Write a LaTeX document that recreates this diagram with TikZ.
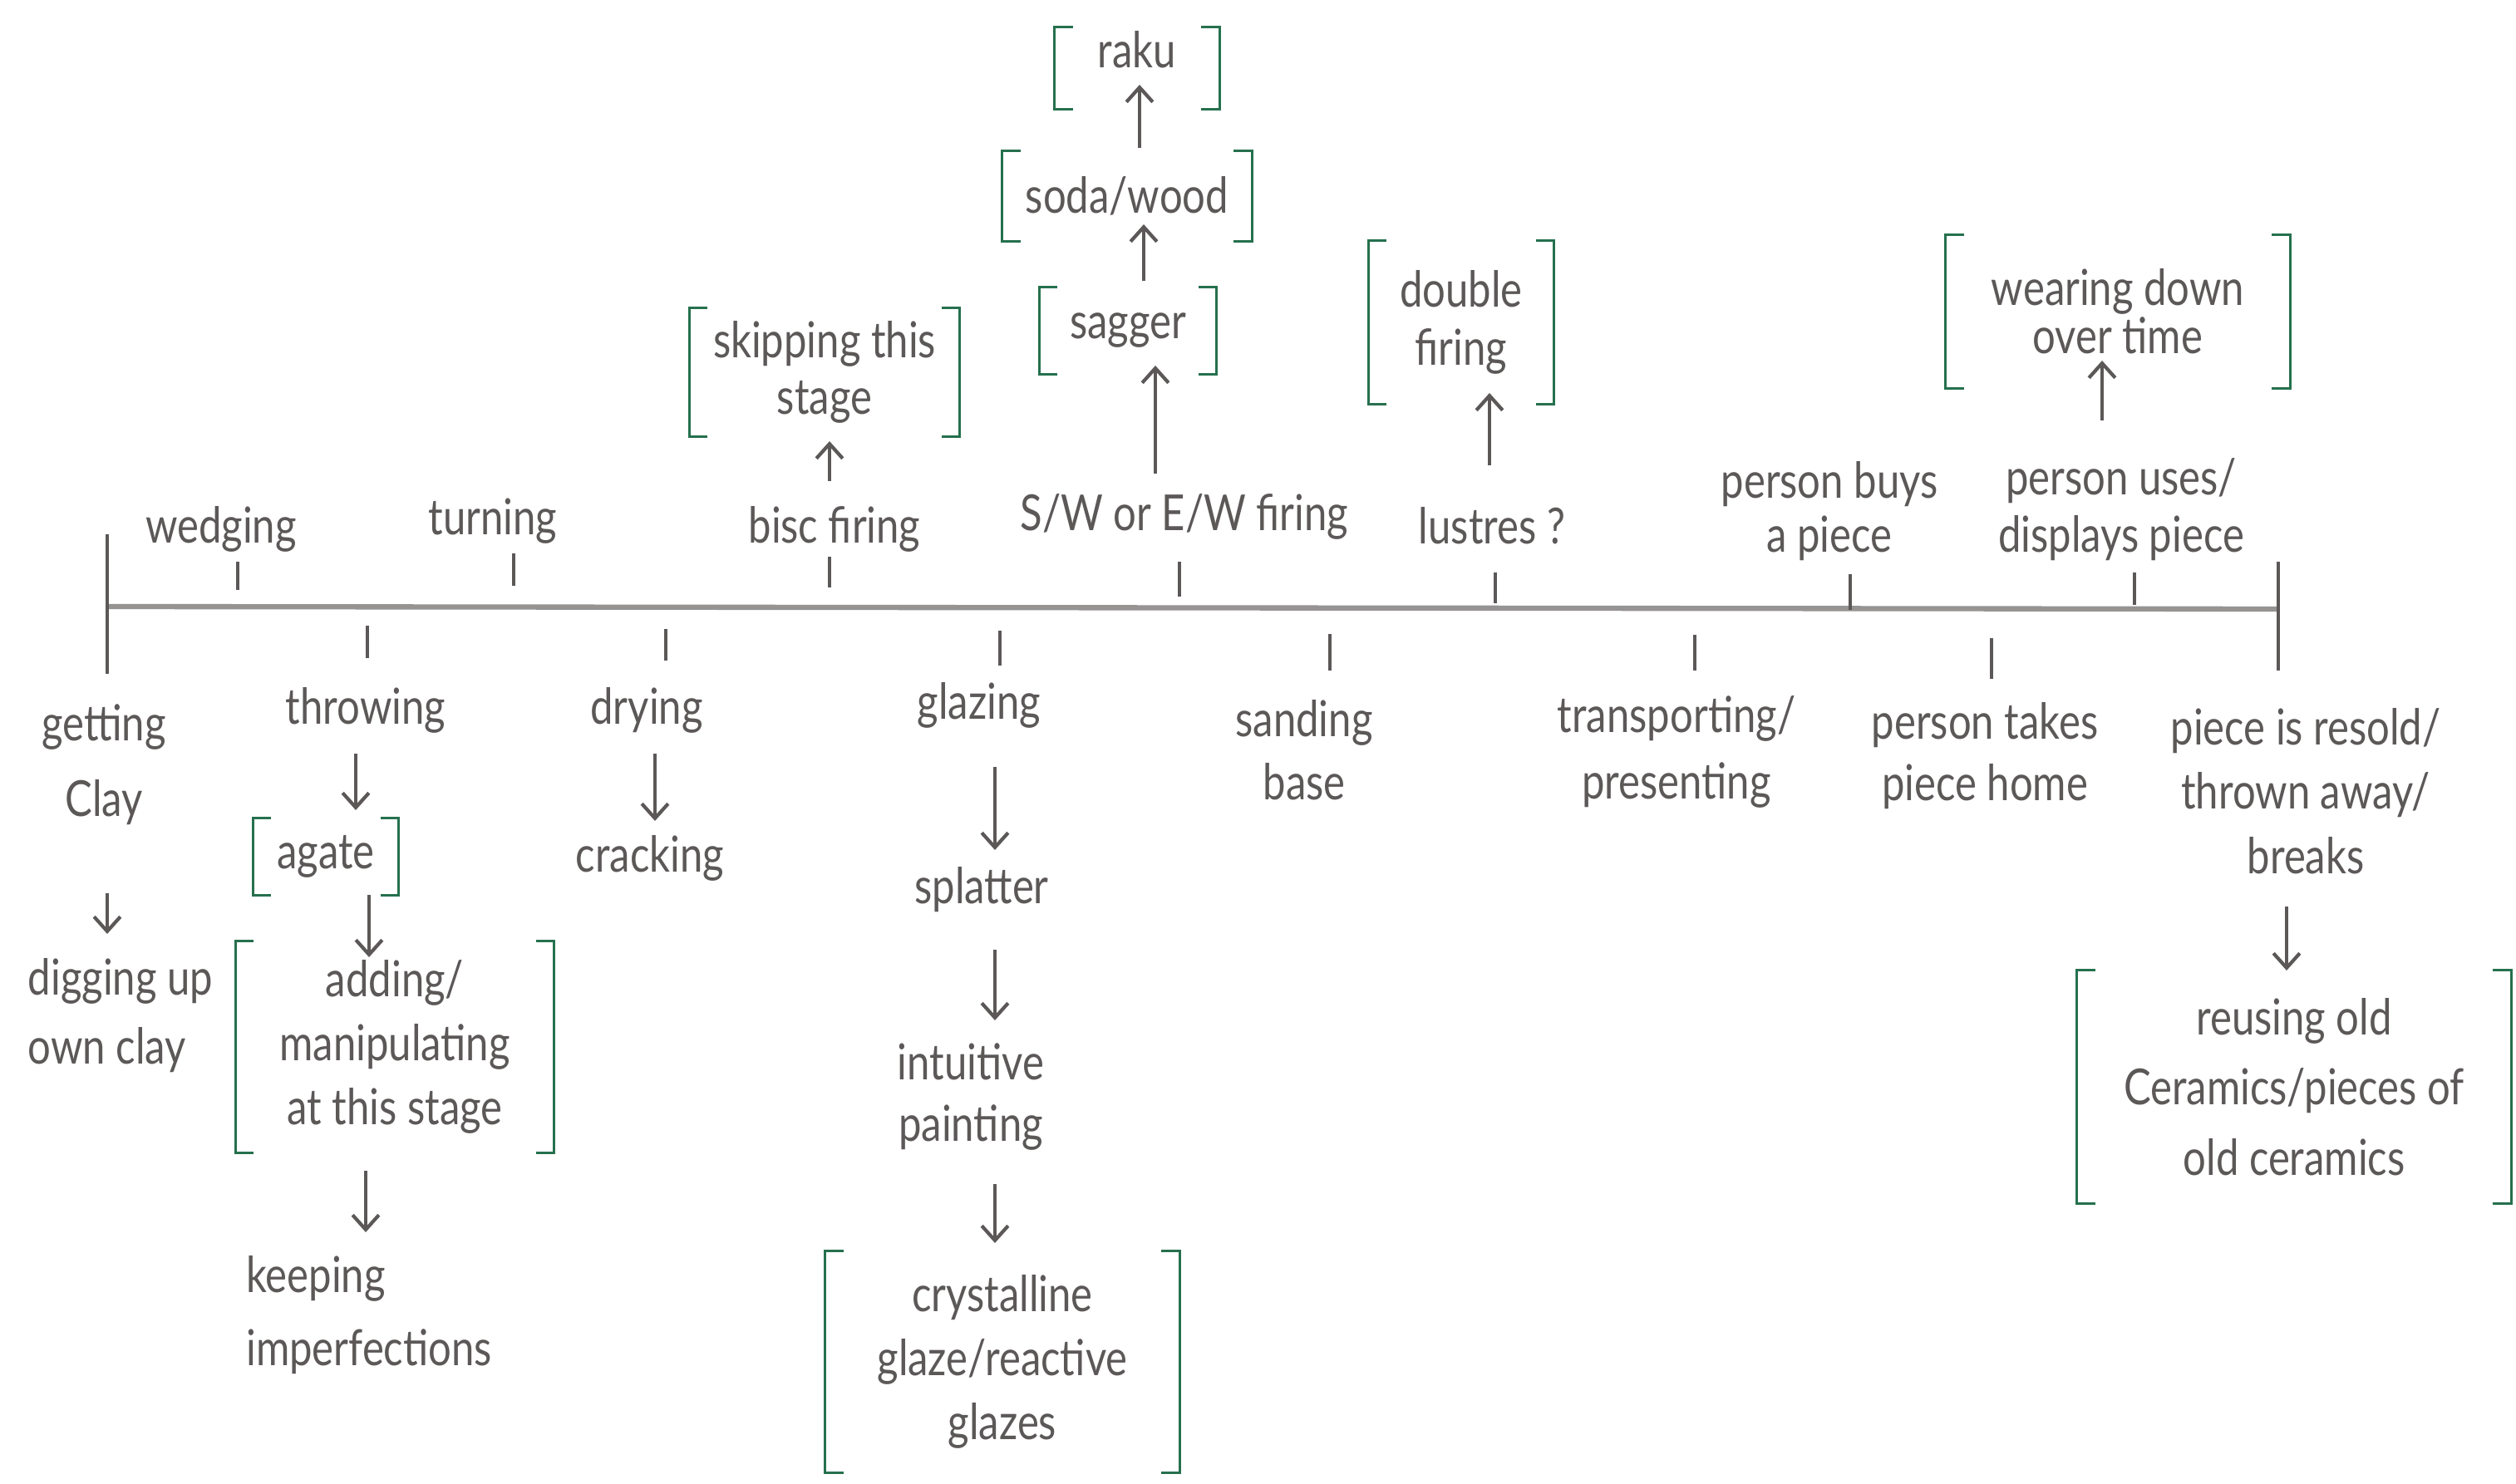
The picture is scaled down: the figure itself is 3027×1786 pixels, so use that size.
\documentclass[tikz,border=0pt]{standalone}
\usepackage{fontspec}
\setmainfont{Lato}[FakeStretch=0.82]
\usetikzlibrary{arrows.meta,calc}
\definecolor{ink}{RGB}{92,88,88}
\definecolor{tlgrey}{RGB}{150,147,147}
\definecolor{brgreen}{RGB}{38,112,78}
% bracket pair around a node
\newcommand\grbr[1]{%
  \draw[brk] ($(#1.north west)+(22,0)$) -- (#1.north west) -- (#1.south west) -- ++(22,0);
  \draw[brk] ($(#1.north east)+(-22,0)$) -- (#1.north east) -- (#1.south east) -- ++(-22,0);}
% arrow from node a to node b: x offset from a's centre, y offsets from a's and b's centres
\newcommand\conn[5]{\draw[arr] ($(#1.center)+(#3,#4)$) -- ($(#1.center |- #2.center)+(#3,#5)$);}
% tick mark under/over a label
\newcommand\tk[4]{\draw[tick] ($(#1.center)+(#2,#3)$) -- ($(#1.center)+(#2,#4)$);}
\begin{document}
\begin{tikzpicture}[x=0.01cm,y=-0.01cm,
  lbl/.style={text=ink,font=\fontsize{17}{22}\selectfont,align=center,inner sep=0pt},
  lsk/.style={font=\fontsize{17}{#1}\selectfont},
  bbox/.style={lbl},
  brk/.style={draw=brgreen,line width=0.9pt},
  arr/.style={draw=ink,line width=1.2pt,-{Straight Barb[length=5pt,width=9pt]}},
  tick/.style={draw=ink,line width=1.3pt},
  axisline/.style={draw=tlgrey,line width=1.8pt}]
\fill[white] (0,0) rectangle (3027,1786);
\useasboundingbox (0,0) rectangle (3027,1786);

% timeline
\coordinate (L) at (129,730);
\coordinate (R) at (2741,733);
\coordinate (Ltop) at (129,643);
\coordinate (Lbot) at (129,811);
\coordinate (Rtop) at (2741,676);
\coordinate (Rbot) at (2741,807);
\draw[axisline] (L) -- (R);
\draw[tick] (Ltop) -- (Lbot);
\draw[tick] (Rtop) -- (Rbot);

% labels above the line
\node[lbl] (wed)  at (266,637)  {wedging};
\node[lbl] (turn) at (593,627)  {turning};
\node[lbl] (bisc) at (1004,637) {bisc firing};
\node[lbl] (sw)   at (1425,622) {S/W or E/W firing};
\node[lbl] (lus)  at (1795,633) {lustres ?};
\node[lbl,lsk=18.5pt] (buys) at (2201,615) {person buys\\a piece};
\node[lbl,lsk=19.5pt] (uses) at (2552,613) {person uses/\\displays piece};

% labels below the line
\node[lbl,lsk=26pt] (get) at (125,920)  {getting\\Clay};
\node[lbl] (thr) at (440,855)  {throwing};
\node[lbl] (dry) at (778,855)  {drying};
\node[lbl] (gla) at (1178,849) {glazing};
\node[lbl,lsk=21.5pt] (san) at (1569,903) {sanding\\base};
\node[lbl,lsk=23pt] (tra) at (2017,905) {transporting/\\presenting};
\node[lbl,lsk=21pt] (tak) at (2388,910) {person takes\\piece home};
\node[lbl] (pie) at (2774,952) {piece is resold/\\thrown away/\\breaks};

% ticks
\tk{wed}{20}{39}{73}
\tk{turn}{25}{39}{78}
\tk{bisc}{-6}{33}{70}
\tk{sw}{-6}{54}{96}
\tk{lus}{4}{56}{93}
\tk{buys}{25}{76}{119}
\tk{uses}{16}{76}{115}
\tk{thr}{2}{-102}{-63}
\tk{dry}{23}{-98}{-60}
\tk{gla}{25}{-90}{-48}
\tk{san}{31}{-140}{-96}
\tk{tra}{22}{-141}{-98}
\tk{tak}{8}{-142}{-93}

% chains below
\node[lbl,align=left,lsk=23.5pt] (dig) at (145,1222) {digging up\\own clay};
\node[bbox,minimum width=1.74cm,minimum height=0.92cm] (aga) at (392,1031) {agate};
\node[bbox,minimum width=3.82cm,minimum height=2.53cm] (add) at (475,1260) {adding/\\manipulating\\at this stage};
\node[lbl,align=left,lsk=25pt] (kee) at (444,1583) {keeping\\imperfections};
\node[lbl] (cra) at (782,1033) {cracking};
\node[lbl] (spl) at (1181,1071) {splatter};
\node[lbl,lsk=21pt] (int) at (1168,1320) {intuitive\\painting};
\node[bbox,minimum width=4.25cm,minimum height=2.66cm] (cry) at (1206,1639) {crystalline\\glaze/reactive\\glazes};
\node[bbox,lsk=24pt,minimum width=5.21cm,minimum height=2.8cm] (reu) at (2760,1308) {reusing old\\Ceramics/pieces of\\old ceramics};

% chains above
\node[bbox,lsk=19.5pt,minimum width=3.24cm,minimum height=1.54cm] (skp) at (992,448) {skipping this\\stage};
\node[bbox,minimum width=2.12cm,minimum height=1.03cm] (sag) at (1357,398) {sagger};
\node[bbox,minimum width=2.99cm,minimum height=1.07cm] (sod) at (1356,236) {soda/wood};
\node[bbox,text height=10pt,text depth=10pt,minimum width=1.97cm,minimum height=0.98cm] (rak) at (1368,82) {raku};
\node[bbox,lsk=20pt,minimum width=2.22cm,minimum height=1.96cm] (dbl) at (1758,388) {double\\firing};
\node[bbox,lsk=16.5pt,minimum width=4.13cm,minimum height=1.83cm] (wea) at (2548,375) {wearing down\\over time};

\grbr{aga}
\grbr{add}
\grbr{cry}
\grbr{reu}
\grbr{skp}
\grbr{sag}
\grbr{sod}
\grbr{rak}
\grbr{dbl}
\grbr{wea}

% arrows
\conn{get}{dig}{4}{155}{-98}
\conn{thr}{aga}{-12}{52}{-56}
\conn{aga}{add}{52}{46}{-108}
\conn{add}{kee}{-35}{149}{-100}
\conn{dry}{cra}{10}{52}{-45}
\conn{gla}{spl}{19}{74}{-48}
\conn{spl}{int}{16}{72}{-92}
\conn{int}{cry}{29}{105}{-143}
\conn{pie}{reu}{-23}{139}{-140}
\conn{bisc}{skp}{-6}{-58}{83}
\conn{sw}{sag}{-35}{-52}{42}
\conn{sag}{sod}{19}{-60}{34}
\conn{sod}{rak}{15}{-58}{20}
\conn{lus}{dbl}{-3}{-73}{85}
\conn{uses}{wea}{-23}{-107}{59}
\end{tikzpicture}
\end{document}
